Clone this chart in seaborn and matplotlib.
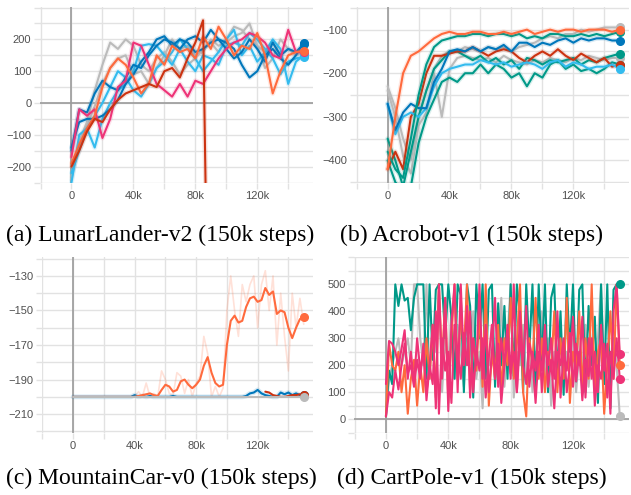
import numpy as np
import matplotlib
matplotlib.use('Agg')
import matplotlib.pyplot as plt
import seaborn as sns
from matplotlib.ticker import FixedLocator, MultipleLocator, FuncFormatter

sns.set_theme(style='white')
plt.rcParams['font.family'] = ['Liberation Sans', 'DejaVu Sans']

# tensorboard colours
BLUE, CYAN, TEAL = '#0077bb', '#33bbee', '#009988'
ORANGE, RED, PINK, GRAY = '#ff6a3d', '#cc3311', '#ee3377', '#bbbbbb'

steps_5k = np.arange(0, 150001, 5000)
steps_2k = np.arange(0, 150001, 2000)
steps_2_5k = np.arange(0, 150001, 2500)
x_ticks = [0, 40000, 80000, 120000]

# (a) LunarLander-v2
lunar_blue1 = [-150, -20, -30, 30, 70, 50, 40, 80, 120, 110, 150, 180, 200, 190, 170, 200, 210, 190, 230, 200, 190, 170, 120, 80, 100, 150, 170, 140, 120, 150, 190]
lunar_blue2 = [-140, -60, -50, -50, -40, -20, 10, 60, 90, 130, 160, 200, 210, 180, 200, 190, 160, 170, 190, 200, 170, 140, 160, 200, 170, 130, 190, 150, 170, 160, 185]
lunar_cyan1 = [-250, -100, -80, -140, -50, 0, 40, 60, 100, 180, 185, 180, 150, 120, 170, 130, 100, 150, 140, 120, 180, 190, 180, 220, 200, 170, 140, 90, 130, 140, 145]
lunar_cyan2 = [-220, -150, -80, -40, 0, 50, 100, 80, 40, 20, 60, 110, 130, 160, 200, 170, 140, 100, 130, 160, 200, 230, 150, 180, 130, 160, 200, 170, 60, 130, 150]
lunar_gray1 = [-240, -120, -60, 40, 120, 190, 170, 200, 180, 120, 100, 140, 160, 130, 90, 120, 140, 170, 190, 160, 200, 240, 230, 200, 180, 160, 190, 150, 170, 160, 155]
lunar_gray2 = [-230, -140, -70, -10, 60, 110, 140, 150, 90, 100, 60, 110, 150, 200, 170, 180, 150, 160, 200, 180, 190, 210, 220, 250, 180, 110, 140, 200, 170, 150, 160]
lunar_pink = [-170, -20, -40, -20, -110, -50, 50, 70, 190, 180, 120, 60, 40, 20, 60, 20, 70, 60, 100, 140, 170, 190, 200, 220, 210, 190, 150, 140, 230, 160, 160]
lunar_orange = [-190, -130, -80, -40, 50, 110, 140, 120, 80, 30, 60, 150, 120, 180, 160, 170, 140, 210, 170, 240, 200, 150, 180, 170, 220, 150, 30, 100, 150, 160, 165]
lunar_red_steps = [0, 5000, 10000, 15000, 20000, 25000, 30000, 35000, 40000, 45000, 50000, 55000, 60000, 65000, 70000, 75000, 80000, 85000, 88000]
lunar_red = [-200, -150, -90, -50, -60, -20, 10, 30, 40, 50, 60, 50, 100, 110, 80, 140, 190, 260, -700]

# (b) Acrobot-v1
acro_orange = [-420, -300, -200, -160, -150, -135, -120, -110, -105, -110, -110, -105, -105, -110, -110, -105, -110, -105, -100, -110, -105, -100, -105, -100, -100, -105, -100, -100, -100, -105, -100]
acro_red = [-420, -380, -420, -300, -270, -200, -160, -160, -155, -150, -150, -140, -150, -160, -150, -145, -150, -165, -175, -160, -150, -160, -145, -160, -170, -155, -165, -175, -165, -185, -180]
acro_teal1 = [-380, -420, -440, -350, -250, -180, -140, -125, -120, -115, -115, -110, -110, -115, -110, -110, -115, -110, -120, -115, -120, -110, -110, -115, -115, -110, -115, -110, -115, -110, -105]
acro_teal2 = [-350, -400, -460, -380, -300, -240, -190, -170, -150, -150, -160, -170, -160, -175, -165, -180, -170, -190, -165, -170, -180, -170, -175, -170, -165, -180, -170, -175, -165, -160, -155]
acro_teal3 = [-400, -450, -470, -460, -360, -300, -260, -220, -210, -220, -200, -200, -180, -200, -180, -190, -210, -200, -230, -200, -210, -180, -170, -190, -180, -195, -190, -200, -190, -175, -180]
acro_blue = [-270, -330, -290, -270, -280, -280, -220, -190, -150, -145, -150, -140, -150, -140, -145, -135, -150, -130, -130, -140, -130, -135, -125, -120, -130, -120, -125, -120, -120, -125, -125]
acro_cyan = [-270, -340, -300, -290, -300, -280, -230, -200, -190, -185, -180, -180, -170, -175, -180, -175, -185, -180, -175, -180, -190, -175, -170, -185, -175, -180, -190, -185, -185, -180, -190]
acro_gray1 = [-230, -280, -350, -400, -300, -240, -190, -160, -150, -150, -140, -145, -150, -140, -145, -140, -150, -140, -135, -130, -120, -115, -120, -110, -110, -100, -105, -100, -95, -95, -95]
acro_gray2 = [-240, -300, -390, -430, -320, -290, -200, -300, -190, -165, -160, -165, -170, -165, -175, -160, -170, -175, -180, -170, -175, -165, -170, -175, -165, -170, -160, -165, -170, -165, -165]

# (c) MountainCar-v0
mc_orange = [-200, -200, -200, -200, -200, -200, -200, -200, -200, -200, -200, -200, -200, -200, -200, -200,
             -200, -199.5, -199, -198.5, -198, -199, -199.5, -196, -193, -194, -197, -196, -191, -190, -193,
             -195, -193, -190, -182, -177, -186, -192, -194, -193, -170, -156, -153, -157, -156, -148, -143,
             -142, -145, -144, -137, -141, -139, -152, -150, -151, -160, -166, -160, -155, -154]
mc_orange_raw = [-200, -200, -200, -200, -200, -200, -200, -200, -200, -200, -200, -200, -200, -200, -200, -200,
                 -200, -197, -200, -192, -200, -198, -200, -185, -190, -198, -199, -186, -188, -198, -190,
                 -200, -192, -188, -165, -175, -200, -194, -200, -195, -150, -130, -150, -165, -135, -145, -135,
                 -130, -160, -135, -127, -150, -130, -170, -140, -165, -185, -140, -160, -143, -158]
mc_blue = [-200, -200, -200, -200, -200, -200, -200, -200, -200, -200, -200, -200, -200, -200, -200, -200,
           -199, -200, -199.5, -200, -199.5, -200, -200, -200, -200, -200, -199.5, -200, -200, -200, -200,
           -200, -200, -200, -200, -200, -200, -200, -200, -200, -200, -200, -200, -200, -200, -199.5, -198,
           -197.5, -196, -198, -199, -199.5, -200, -200, -197.5, -198.5, -197.5, -199, -198, -199, -199]
mc_red_steps = [125000, 127500, 130000, 132500, 135000, 137500, 140000, 142500, 145000, 147500, 150000]
mc_red = [-197, -197.5, -199, -199.5, -200, -200, -199.5, -199, -199, -198.5, -199]
mc_gray_steps = [0, 150000]
mc_gray = [-200, -200]

# (d) CartPole-v1
cp_teal = [10, 180, 130, 500, 420, 500, 440, 450, 330, 450, 500, 500, 500, 150, 500, 220, 480, 500, 500, 300,
           500, 380, 150, 500, 460, 100, 500, 420, 80, 500, 300, 500, 150, 480, 500, 120, 430, 200, 420, 150,
           500, 160, 500, 380, 100, 500, 250, 500, 90, 500, 200, 500, 100, 450, 500, 150, 400, 90, 500, 250,
           500, 140, 480, 500, 100, 420, 200, 380, 60, 500, 130, 500, 40, 480, 500, 500]
cp_orange = [10, 280, 200, 180, 250, 100, 200, 20, 150, 220, 50, 200, 100, 300, 150, 350, 80, 500, 200, 450,
             60, 300, 500, 150, 400, 250, 500, 100, 300, 180, 400, 120, 500, 50, 250, 150, 350, 100, 300, 200,
             450, 150, 280, 500, 100, 10, 300, 200, 450, 150, 300, 100, 250, 180, 400, 100, 300, 150, 450, 60,
             250, 180, 400, 120, 300, 150, 500, 100, 250, 300, 20, 200, 400, 150, 500, 200]
cp_pink1 = [130, 290, 280, 250, 200, 260, 330, 150, 250, 130, 300, 180, 250, 100, 200, 350, 40, 500, 150, 450,
            30, 350, 500, 100, 500, 200, 420, 80, 300, 200, 500, 150, 350, 100, 250, 450, 120, 300, 200, 350,
            150, 500, 100, 300, 200, 420, 120, 250, 180, 350, 100, 280, 200, 300, 150, 400, 80, 250, 180, 320,
            120, 280, 200, 380, 80, 300, 150, 250, 100, 350, 180, 280, 20, 400, 500, 240]
cp_pink2 = [10, 100, 80, 180, 110, 200, 280, 170, 200, 120, 220, 150, 280, 70, 200, 130, 400, 20, 300, 180,
            250, 60, 350, 250, 150, 320, 200, 400, 100, 250, 180, 300, 80, 230, 350, 150, 280, 60, 200, 300,
            170, 250, 100, 400, 200, 130, 280, 220, 60, 250, 180, 350, 120, 220, 40, 250, 200, 300, 100, 200,
            380, 140, 250, 70, 220, 160, 300, 50, 200, 150, 280, 80, 250, 150, 300, 150]
cp_gray = [10, 150, 200, 250, 300, 200, 250, 300, 200, 500, 500, 300, 200, 500, 150, 350, 250, 500, 100, 300,
           200, 400, 150, 350, 250, 120, 300, 200, 400, 150, 250, 40, 300, 200, 350, 150, 250, 450, 120, 300,
           500, 80, 250, 200, 350, 150, 300, 100, 250, 200, 400, 150, 300, 50, 250, 200, 350, 120, 250, 200,
           300, 100, 250, 180, 350, 120, 250, 200, 300, 500, 150, 250, 100, 300, 200, 10]

captions = ['(a) LunarLander-v2 (150k steps)', '(b) Acrobot-v1 (150k steps)',
            '(c) MountainCar-v0 (150k steps)', '(d) CartPole-v1 (150k steps)']


def draw(ax, x, y, color, haze=True, dot=True, lw=1.5):
    if haze:
        sns.lineplot(x=x, y=y, color=color, lw=3.5, alpha=0.15, ax=ax, estimator=None, sort=False)
    sns.lineplot(x=x, y=y, color=color, lw=lw, ax=ax, estimator=None, sort=False)
    if dot:
        ax.plot(x[-1], y[-1], 'o', color=color, ms=5.5, zorder=5, clip_on=False)


def style(ax, ylim, yticks, ystep, hline=True):
    ax.set_xlim(-20500, 156000)
    ax.set_ylim(*ylim)
    ax.xaxis.set_major_locator(FixedLocator(x_ticks))
    ax.xaxis.set_minor_locator(MultipleLocator(20000))
    ax.yaxis.set_major_locator(FixedLocator(yticks))
    ax.yaxis.set_minor_locator(MultipleLocator(ystep))
    ax.xaxis.set_major_formatter(FuncFormatter(lambda v, p: '0' if v == 0 else f'{int(v / 1000)}k'))
    ax.grid(which='both', color='#e2e2e2', lw=1)
    ax.set_axisbelow(True)
    ax.tick_params(which='both', length=4, width=1, color='#e2e2e2', labelsize=8,
                   labelcolor='#505050', pad=2, left=True, bottom=True)
    for s in ax.spines.values():
        s.set_visible(False)
    ax.axvline(0, color='#9a9a9a', lw=1.2, zorder=1)
    if hline:
        ax.axhline(0, color='#9a9a9a', lw=1.2, zorder=1)
    ax.set_xlabel('')
    ax.set_ylabel('')


fig = plt.figure(figsize=(6.31, 4.95), dpi=100)
ax_a = fig.add_axes([0.063, 0.630, 0.433, 0.356])
ax_b = fig.add_axes([0.564, 0.630, 0.433, 0.356])
ax_c = fig.add_axes([0.066, 0.125, 0.430, 0.356])
ax_d = fig.add_axes([0.561, 0.125, 0.436, 0.356])

for y, c in [(lunar_gray1, GRAY), (lunar_gray2, GRAY), (lunar_cyan1, CYAN), (lunar_cyan2, CYAN),
             (lunar_blue2, BLUE), (lunar_blue1, BLUE), (lunar_pink, PINK), (lunar_orange, ORANGE)]:
    draw(ax_a, steps_5k, y, c)
draw(ax_a, lunar_red_steps, lunar_red, RED, dot=False)
style(ax_a, (-252, 302), [-200, -100, 0, 100, 200], 50)

for y, c in [(acro_gray2, GRAY), (acro_gray1, GRAY), (acro_teal3, TEAL), (acro_teal2, TEAL),
             (acro_red, RED), (acro_cyan, CYAN), (acro_blue, BLUE), (acro_teal1, TEAL), (acro_orange, ORANGE)]:
    draw(ax_b, steps_5k, y, c)
style(ax_b, (-452, -48), [-400, -300, -200, -100], 50, hline=False)

sns.lineplot(x=steps_2_5k, y=mc_orange_raw, color=ORANGE, lw=1.2, alpha=0.2, ax=ax_c, estimator=None, sort=False)
draw(ax_c, steps_2_5k, mc_blue, BLUE, haze=True)
draw(ax_c, mc_red_steps, mc_red, RED, haze=False)
draw(ax_c, steps_2_5k, mc_orange, ORANGE, haze=False)
draw(ax_c, mc_gray_steps, mc_gray, GRAY, haze=False)
style(ax_c, (-221, -119), [-210, -190, -170, -150, -130], 10, hline=False)

for y, c in [(cp_gray, GRAY), (cp_teal, TEAL), (cp_orange, ORANGE), (cp_pink2, PINK), (cp_pink1, PINK)]:
    draw(ax_d, steps_2k, y, c, haze=False, lw=1.5)
style(ax_d, (-52, 602), [0, 100, 200, 300, 400, 500], 50)

cap_pos = [(0.0095, 0.525), (0.539, 0.525), (0.0095, 0.034), (0.534, 0.034)]
for (cx, cy), text in zip(cap_pos, captions):
    fig.text(cx, cy, text, ha='left', va='center', fontsize=17,
             family=['Liberation Serif', 'DejaVu Serif'], color='black')

fig.savefig('out.png', dpi=100)
